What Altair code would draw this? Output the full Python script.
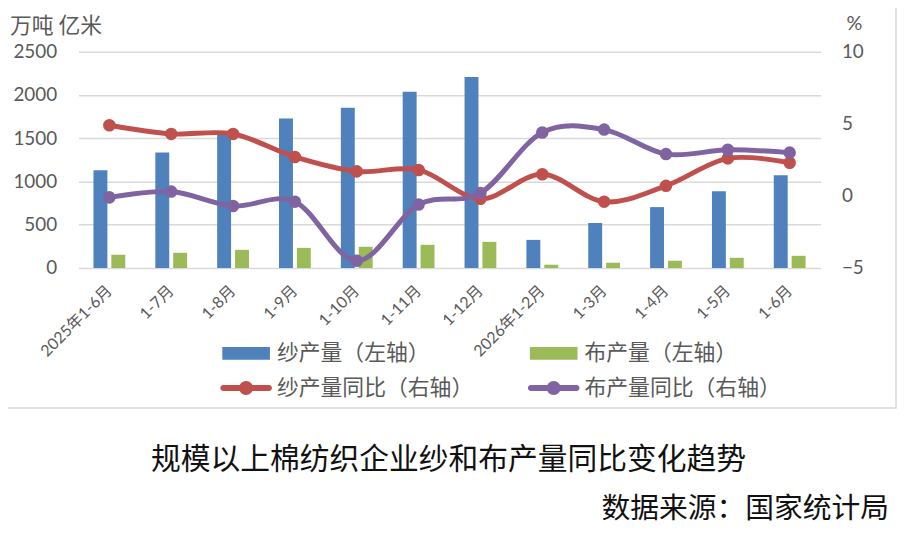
import altair as alt
import pandas as pd

cats = ["2025年1-6月", "1-7月", "1-8月", "1-9月", "1-10月", "1-11月", "1-12月",
        "2026年1-2月", "1-3月", "1-4月", "1-5月", "1-6月"]
yarn = [1130, 1336, 1554, 1727, 1853, 2037, 2209, 325, 520, 704, 888, 1072]
cloth = [153, 176, 210, 233, 245, 268, 302, 38, 61, 84, 118, 141]
yarn_yoy = [4.9, 4.3, 4.3, 2.7, 1.7, 1.8, -0.2, 1.5, -0.4, 0.7, 2.6, 2.3]
cloth_yoy = [-0.1, 0.3, -0.7, -0.4, -4.5, -0.6, 0.2, 4.4, 4.6, 2.9, 3.2, 3.0]

names = ["纱产量（左轴）", "布产量（左轴）", "纱产量同比（右轴）", "布产量同比（右轴）"]
colors = ["#4F81BD", "#9BBB59", "#C0504D", "#8064A2"]
left_ticks = [0, 500, 1000, 1500, 2000, 2500]
right_ticks = [-5, 0, 5, 10]

yarn_df = pd.DataFrame({"cat": cats, "series": names[0], "value": yarn})
cloth_df = pd.DataFrame({"cat": cats, "series": names[1], "value": cloth})
yarn_yoy_df = pd.DataFrame({"cat": cats, "series": names[2], "value": yarn_yoy})
cloth_yoy_df = pd.DataFrame({"cat": cats, "series": names[3], "value": cloth_yoy})
legend_df = pd.DataFrame({"cat": [cats[0]] * 4, "series": names, "value": [-10] * 4})

FONT_NUM = "Lato, Noto Sans CJK SC, sans-serif"
FONT_CJK = "Noto Sans CJK SC, sans-serif"
GRAY = "#595959"

rect_path = "M-2.4,-0.65H2.4V0.65H-2.4Z"
line_path = ("M-2.3,-0.3H2.3A0.3,0.3,0,0,1,2.3,0.3H-2.3A0.3,0.3,0,0,1,-2.3,-0.3Z"
             "M-0.7,0A0.7,0.7,0,1,1,0.7,0A0.7,0.7,0,1,1,-0.7,0Z")
shapes = [rect_path, rect_path, line_path, line_path]

x = alt.X("cat:N", sort=cats,
          scale=alt.Scale(domain=cats, paddingInner=0.486, paddingOuter=0.243),
          axis=alt.Axis(title=None, labelAngle=-45, labelAlign="right", labelBaseline="middle",
                        labelFont=FONT_NUM, labelFontSize=16, labelColor=GRAY,
                        ticks=False, domain=False, labelPadding=20, labelOverlap=False,
                        labelLimit=300))
xoff = alt.XOffset("series:N", sort=names[:2],
                   scale=alt.Scale(domain=names[:2], paddingInner=0.222, paddingOuter=0))
ly = alt.Y("value:Q", scale=alt.Scale(domain=[0, 2500], nice=False),
           axis=alt.Axis(title=None, values=left_ticks, orient="left", grid=True, format="d",
                         gridColor="#D9D9D9", gridWidth=1.5, ticks=False, domain=False,
                         labelPadding=22, labelFont=FONT_NUM, labelFontSize=19,
                         labelColor=GRAY))
bars = alt.layer(
    alt.Chart(yarn_df).mark_bar(color=colors[0]).encode(x=x, xOffset=xoff, y=ly),
    alt.Chart(cloth_df).mark_bar(color=colors[1]).encode(x=x, xOffset=xoff, y=ly),
)

ry = alt.Y("value:Q", scale=alt.Scale(domain=[-5, 10], nice=False, zero=False),
           axis=alt.Axis(title=None, orient="right", values=right_ticks, grid=False,
                         ticks=False, domain=False, labelPadding=21, labelFont=FONT_NUM,
                         labelFontSize=19, labelColor=GRAY, labelAlign="left"))

def yoy(df, col):
    base = alt.Chart(df).encode(x=x, y=ry)
    return [base.mark_line(interpolate="cardinal", strokeWidth=5, color=col),
            base.mark_point(filled=True, size=160, opacity=1, color=col)]

right = alt.layer(*yoy(yarn_yoy_df, colors[2]), *yoy(cloth_yoy_df, colors[3]))

leg = alt.Legend(title=None, orient="none", legendX=158, legendY=293, columns=2,
                 direction="horizontal",
                 symbolSize=400, symbolStrokeWidth=0, labelFont=FONT_CJK,
                 labelFontSize=22, labelColor=GRAY, labelOffset=20, columnPadding=54,
                 rowPadding=13, padding=0, labelLimit=400)
legend_layer = alt.Chart(legend_df).mark_point(filled=True, opacity=1, clip=True).encode(
    x=x,
    y=alt.Y("value:Q", scale=alt.Scale(domain=[0, 1]), axis=None),
    color=alt.Color("series:N", scale=alt.Scale(domain=names, range=colors), legend=leg),
    shape=alt.Shape("series:N", scale=alt.Scale(domain=names, range=shapes), legend=leg),
)

border = alt.Chart(pd.DataFrame({"a": [0]})).mark_rect(
    fill=None, stroke="#D9D9D9", strokeWidth=1.5).encode(
    x=alt.value(-77), x2=alt.value(824), y=alt.value(-47), y2=alt.value(359))

def label(text, xv, yv, size, align, font, col):
    return alt.Chart(pd.DataFrame({"t": [text]})).mark_text(
        align=align, baseline="middle", fontSize=size, font=font, color=col).encode(
        text="t:N", x=alt.value(xv), y=alt.value(yv))

unit_left = label("万吨 亿米", -69, -26, 22, "left", FONT_CJK, GRAY)
unit_right = label("%", 782, -28, 20, "center", FONT_NUM, GRAY)
title = label("规模以上棉纺织企业纱和布产量同比变化趋势", 373, 412, 30, "center", FONT_CJK, "#111111")
source = label("数据来源：国家统计局", 817, 461, 29, "right", FONT_CJK, "#111111")

chart = alt.layer(border, bars, right, legend_layer, unit_left, unit_right, title, source).resolve_scale(
    y="independent"
).properties(
    width=748, height=218,
    autosize=alt.AutoSizeParams(type="none"),
    padding={"left": 71, "top": 42, "right": 77, "bottom": 262},
    background="white",
).configure_view(stroke=None)

chart.save("out.html", embed_options={"renderer": "svg", "actions": False})
